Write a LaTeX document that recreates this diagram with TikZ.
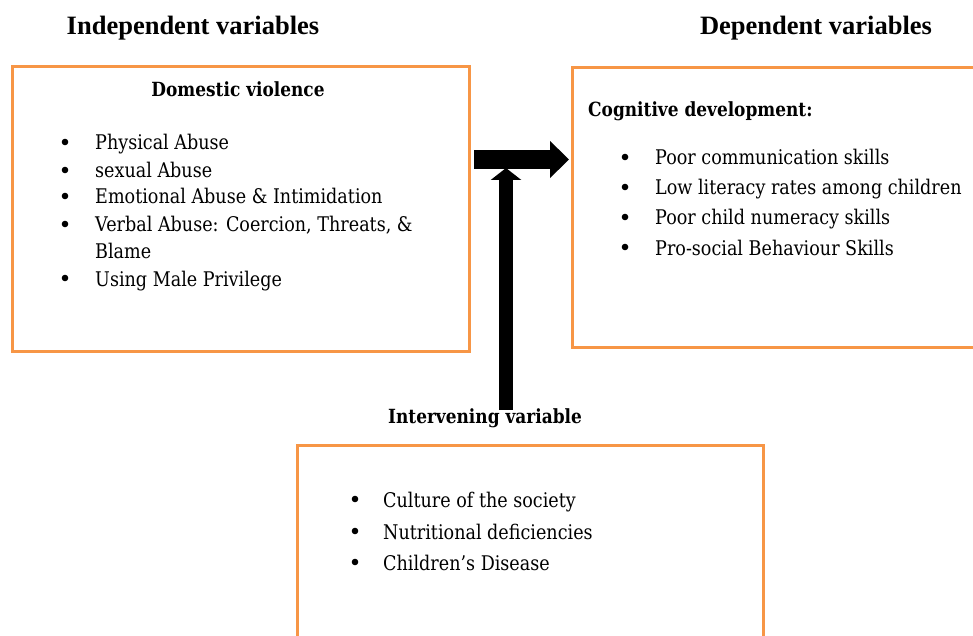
\documentclass[tikz,border=0pt]{standalone}
\usepackage{fontspec}
\setmainfont[FakeStretch=0.87]{DejaVu Serif}
\newfontfamily\headfont{Liberation Serif}
\usepackage{tikz}
\usetikzlibrary{arrows.meta,calc}
\definecolor{boxorange}{RGB}{247,150,70}
\tikzset{varbox/.style={draw=boxorange, line width=3pt, inner sep=0pt, outer sep=0pt}}

\begin{document}
\begin{tikzpicture}[x=1pt, y=-1pt,
  head/.style={font=\headfont\bfseries\fontsize{26.5}{30}\selectfont, anchor=base, inner sep=0pt},
  title/.style={font=\bfseries\fontsize{19.5}{23}\selectfont, anchor=base, inner sep=0pt},
  item/.style={font=\fontsize{20.2}{24}\selectfont, anchor=base west, inner sep=0pt},
  bigarrow/.style={line width=#1, draw=black}]
\useasboundingbox (0,0) rectangle (973,636);
\clip (0,0) rectangle (973,636);
% headings
\node[head] (indep) at (193,35) {Independent variables};
\node[head] (dep) at (816,35) {Dependent variables};
% boxes
\node[varbox, minimum width=457pt, minimum height=284pt] (dvbox) at (240.5,209) {};
\node[varbox, minimum width=420pt, minimum height=279pt] (cdbox) at (782,207.5) {};
\node[varbox, minimum width=466pt, minimum height=260pt] (ivbox) at (530,575) {};
% independent variables
\node[title] (dvtitle) at (238,97) {Domestic violence};
\foreach \n/\yy/\txt in {1/150/Physical Abuse, 2/178/sexual Abuse,
    3/204/Emotional Abuse \& Intimidation, 4/232/{Verbal Abuse: Coercion, Threats, \&},
    6/286/Using Male Privilege} {
  \fill (65,\yy-8) circle (3.3pt);
  \node[item] (dv\n) at (95,\yy) {\txt};
}
\node[item] (dv5) at (95,258) {Blame};
% dependent variables
\node[title, anchor=base west] (cdtitle) at (588,117) {Cognitive development:};
\foreach \n/\yy/\txt in {1/165/Poor communication skills, 2/195/Low literacy rates among children,
    3/225/Poor child numeracy skills, 4/255/Pro-social Behaviour Skills} {
  \fill (625,\yy-8) circle (3.3pt);
  \node[item] (cd\n) at (655,\yy) {\txt};
}
% intervening variable
\node[title] (ivtitle) at (485,423) {Intervening variable};
\foreach \n/\yy/\txt in {1/507/Culture of the society, 2/539/Nutritional deficiencies,
    3/570/Children's Disease} {
  \fill (355,\yy-8) circle (3.3pt);
  \node[item] (iv\n) at (383,\yy) {\txt};
}
% arrows
\coordinate (ivtop) at ($(ivbox.north)+(-24,-35)$);
\draw[bigarrow=14pt, -{Triangle[length=12pt, width=30pt]}]
  (ivtop) -- ($(dvbox.north east)+(37,101)$);
\draw[bigarrow=19pt, -{Triangle[length=19pt, width=36pt]}]
  ($(dvbox.north east)+(5,92.5)$) -- ($(cdbox.north west)+(-3,91.5)$);
\end{tikzpicture}
\end{document}
